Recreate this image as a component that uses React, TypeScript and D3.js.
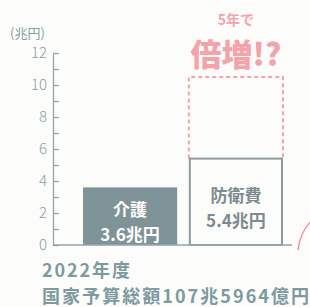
import React, { useEffect, useRef } from "react";
import * as d3 from "d3";

// values (兆円)
const categories = ["介護", "防衛費"];
const values = [3.6, 5.4];
const valueLabels = ["3.6兆円", "5.4兆円"];
const doubledValue = 10.5; // dashed "5年で倍増!?" box
const yTicks = [0, 1, 2, 3, 4, 5, 6, 7, 8, 9, 10, 11, 12];

const W = 310;
const H = 307;
const FONT = "'Noto Sans CJK JP', 'Noto Sans', sans-serif";
const GRAY = "#7f9498";
const AXIS = "#93a6ac";
const PINK = "#f4a3aa";

export default function App() {
  const ref = useRef<SVGSVGElement>(null);

  useEffect(() => {
    document.body.style.margin = "0";
    const svg = d3.select(ref.current);
    svg.selectAll("*").remove();

    svg.append("rect").attr("width", W).attr("height", H).attr("fill", "#fcfcfa");

    const y = d3.scaleLinear().domain([0, 12]).range([245, 53]);
    const x = d3.scaleBand<string>().domain(categories).range([83, 283]).paddingInner(0.11);
    const axisX = 53;

    // y axis, ticks pointing inward
    const yAxis = d3
      .axisLeft(y)
      .tickValues(yTicks)
      .tickSizeInner(-6)
      .tickSizeOuter(0)
      .tickPadding(6)
      .tickFormat((d) => (+d % 2 === 0 ? String(d) : ""));
    const gy = svg.append("g").attr("transform", `translate(${axisX},0)`).call(yAxis);
    gy.select(".domain").attr("stroke", AXIS).attr("stroke-width", 1.3);
    gy.selectAll(".tick line").attr("stroke", AXIS).attr("stroke-width", 1.3);
    gy.selectAll(".tick text")
      .attr("fill", "#8a9ca2")
      .attr("font-family", FONT)
      .attr("font-size", 15)
      .attr("font-weight", 300);

    svg
      .append("text")
      .attr("x", 10)
      .attr("y", 38)
      .attr("font-family", FONT)
      .attr("font-size", 13)
      .attr("fill", "#8a9ca2")
      .text("(兆円)");

    // dashed doubled box
    const dx = x("防衛費")!;
    const bw = x.bandwidth();
    svg
      .append("path")
      .attr("d", `M${dx},${y(values[1])} V${y(doubledValue)} H${dx + bw} V${y(values[1])}`)
      .attr("fill", "none")
      .attr("stroke", PINK)
      .attr("stroke-width", 2)
      .attr("stroke-dasharray", "4,3");

    // bars
    categories.forEach((c, i) => {
      const bx = x(c)!;
      const top = y(values[i]);
      const solid = i === 0;
      svg
        .append("rect")
        .attr("x", solid ? bx : bx + 1)
        .attr("y", top)
        .attr("width", solid ? bw : bw - 2)
        .attr("height", y(0) - top)
        .attr("fill", solid ? GRAY : "#fcfcfa")
        .attr("stroke", solid ? "none" : "#8d9a9d")
        .attr("stroke-width", 2);
      const tc = solid ? "#ffffff" : "#7d8b8f";
      const cx = bx + bw / 2;
      const cy = (top + y(0)) / 2;
      const t = svg
        .append("text")
        .attr("text-anchor", "middle")
        .attr("font-family", FONT)
        .attr("font-size", 17)
        .attr("font-weight", 700)
        .attr("fill", tc);
      t.append("tspan").attr("x", cx).attr("y", cy).text(c);
      t.append("tspan").attr("x", cx).attr("y", cy + 25).text(valueLabels[i]);
    });

    // baseline
    svg
      .append("line")
      .attr("x1", axisX)
      .attr("x2", 292)
      .attr("y1", y(0))
      .attr("y2", y(0))
      .attr("stroke", AXIS)
      .attr("stroke-width", 1.5);

    // decorative arrow curve on the right
    svg
      .append("path")
      .attr("d", "M298,250 Q300,232 312,220")
      .attr("fill", "none")
      .attr("stroke", "#f08890")
      .attr("stroke-width", 1.3);

    // callout
    const cxd = dx + bw / 2;
    const call = svg
      .append("text")
      .attr("text-anchor", "middle")
      .attr("font-family", FONT)
      .attr("fill", PINK);
    call.append("tspan").attr("x", cxd).attr("y", 25).attr("font-size", 14).attr("font-weight", 700).text("5年で");
    call.append("tspan").attr("x", cxd).attr("y", 66).attr("font-size", 31).attr("font-weight", 900).text("倍増!?");

    // footer
    const foot = svg
      .append("text")
      .attr("font-family", FONT)
      .attr("font-size", 18)
      .attr("font-weight", 700)
      .attr("fill", "#7d9aa0");
    foot.append("tspan").attr("x", 42).attr("y", 277).attr("textLength", 88).text("2022年度");
    foot.append("tspan").attr("x", 42).attr("y", 303).attr("textLength", 267).text("国家予算総額107兆5964億円");
  }, []);

  return <svg ref={ref} width={W} height={H} style={{ display: "block" }} />;
}
